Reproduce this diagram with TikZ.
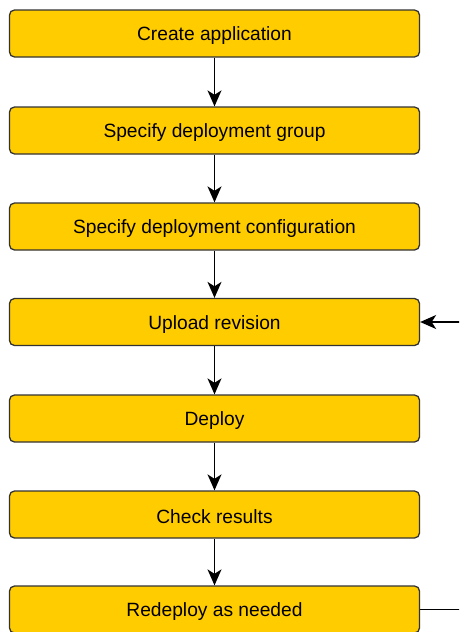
\documentclass[tikz,border=0pt]{standalone}
\usepackage{fontspec}
\setmainfont{Liberation Sans}
\usetikzlibrary{arrows.meta}
% label text sits slightly below the box centre
\newcommand{\steplabel}[1]{\raisebox{-2.5pt}[\height][\depth]{#1}}
\begin{document}
\begin{tikzpicture}[x=1pt,y=-1pt,
  stepbox/.style={draw=black!80, line width=1.3pt, fill={rgb,255:red,255;green,204;blue,0},
    rounded corners=5pt, minimum width=410pt, minimum height=47pt, inner sep=0pt,
    font=\fontsize{19.2}{22}\selectfont},
  flow/.style={draw=black, line width=1.4pt, -{Stealth[length=16pt,width=14pt,inset=4.5pt]}}]
\useasboundingbox (0,0) rectangle (459,632);
\clip (0,0) rectangle (459,632);
\node[stepbox] (app)    at (214.5, 33.5) {\steplabel{Create application}};
\node[stepbox] (group)  at (214.5,130.5) {\steplabel{Specify deployment group}};
\node[stepbox] (config) at (214.5,226.5) {\steplabel{Specify deployment configuration}};
\node[stepbox] (upload) at (214.5,322.0) {\steplabel{Upload revision}};
\node[stepbox] (deploy) at (214.5,418.5) {\steplabel{Deploy}};
\node[stepbox] (check)  at (214.5,514.5) {\steplabel{Check results}};
\node[stepbox] (redeploy) at (214.5,609.5) {\steplabel{Redeploy as needed}};
\draw[flow] (app) -- (group);
\draw[flow] (group) -- (config);
\draw[flow] (config) -- (upload);
\draw[flow] (upload) -- (deploy);
\draw[flow] (deploy) -- (check);
\draw[flow] (check) -- (redeploy);
\coordinate (loopout) at (480,609.5);
\coordinate (loopin) at (480,322.0);
\draw[flow] (redeploy.east) -- (loopout) -- (loopin) -- (upload.east);
\end{tikzpicture}
\end{document}
